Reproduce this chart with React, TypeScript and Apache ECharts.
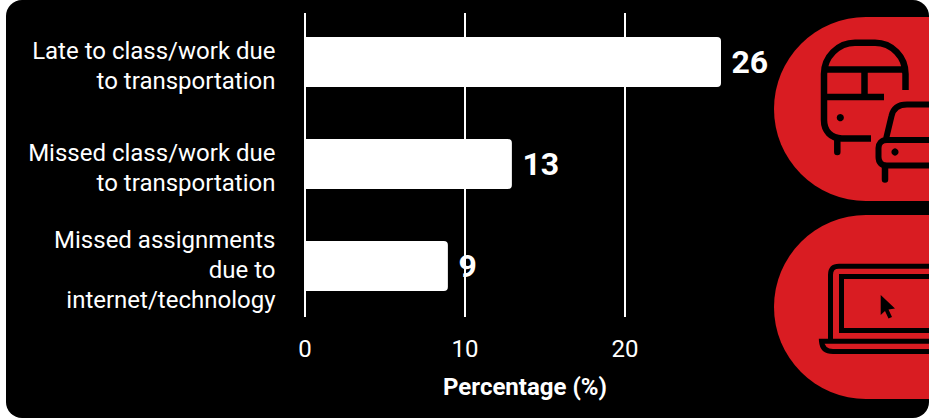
import React, { useEffect, useRef } from "react";
import * as echarts from "echarts";

const categories = [
  "Late to class/work due\nto transportation",
  "Missed class/work due\nto transportation",
  "Missed assignments\ndue to\ninternet/technology",
];
const values = [26, 12.93, 8.93];
const axisName = "Percentage (%)";

const FONT = "Roboto";
const RED = "#d91c22";

const trainPath =
  "M905.5 90 L905.5 74 C905.5 57 892 42.7 875 42.7 L855 42.7 C838 42.7 824 57 824 74 L824 120 C824 131 831 138.5 842 138.5 L871 138.5 " +
  "M824 69.5 L905.5 69.5 M864.5 69.5 L864.5 97 M824 97 L884 97";
const carPath =
  "M929 104.5 L907 104.5 C898 104.5 893 109 891.5 116 L886 139 " +
  "M929 140 L887 140 C881 140 878.5 144 878.5 148 L878.5 157 C878.5 162 881 165.5 887 165.5 L929 165.5";
const legsPath = "M837.3 139 L837.3 152 M885 166 L885 179.5";
const laptopPath =
  "M929 266.3 L839 266.3 C833 266.3 830.5 269 830.5 275 L830.5 341 " +
  "M929 276.5 L841.5 276.5 L841.5 330.5 L929 330.5 " +
  "M929 341.3 L821.5 341.3 C822 348 826 351.5 833 351.5 L929 351.5";

echarts.graphic.registerShape("trainIcon", echarts.graphic.extendPath(trainPath, {}));
echarts.graphic.registerShape("carIcon", echarts.graphic.extendPath(carPath, {}));
echarts.graphic.registerShape("legsIcon", echarts.graphic.extendPath(legsPath, {}));
echarts.graphic.registerShape("laptopIcon", echarts.graphic.extendPath(laptopPath, {}));

export default function App() {
  const ref = useRef<HTMLDivElement>(null);
  useEffect(() => {
    const chart = echarts.init(ref.current!, null, { renderer: "svg" });
    chart.setOption({
      animation: false,
      backgroundColor: "#fff",
      grid: { left: 305, right: 184, top: 11, bottom: 101, containLabel: false },
      xAxis: {
        type: "value",
        min: 0,
        max: 27.5,
        interval: 10,
        name: axisName,
        nameLocation: "middle",
        nameGap: 58,
        nameTextStyle: { color: "#fff", fontFamily: FONT, fontWeight: "bold", fontSize: 24 },
        axisLine: { show: false },
        axisTick: { show: false },
        axisLabel: {
          color: "#fff",
          fontFamily: FONT,
          fontSize: 24,
          margin: 20,
          showMaxLabel: false,
          formatter: (v: number) => (v === 27.5 ? "" : String(v)),
        },
        splitLine: { show: true, showMaxLine: false, lineStyle: { color: "#fff", width: 2 } },
      },
      yAxis: {
        type: "category",
        inverse: true,
        data: categories,
        axisLine: { show: false },
        axisTick: { show: false },
        axisLabel: {
          color: "#fff",
          fontFamily: FONT,
          fontSize: 24,
          lineHeight: 30,
          align: "right",
          margin: 29.5,
          formatter: (v: string) =>
            "{s| }\n" + v.split("\n").map((line) => `{l|${line}}`).join("\n"),
          rich: {
            s: { fontSize: 4, lineHeight: 7 },
            l: { color: "#fff", fontFamily: FONT, fontSize: 24, lineHeight: 30 },
          },
        },
      },
      series: [
        {
          type: "bar",
          data: values,
          barWidth: 50,
          itemStyle: { color: "#fff", borderRadius: [0, 4, 4, 0] },
          label: {
            show: true,
            position: "right",
            distance: 10.5,
            color: "#fff",
            fontFamily: FONT,
            fontWeight: "bold",
            fontSize: 32,
            formatter: (p: any) => String(Math.round(p.value)),
          },
          z: 3,
        },
      ],
      graphic: [
        { type: "rect", z: -10, silent: true, shape: { x: 6, y: 0, width: 923, height: 418, r: 16 }, style: { fill: "#000" } },
        { type: "rect", z: 1, silent: true, shape: { x: 300, y: 9, width: 340, height: 4 }, style: { fill: "#000" } },
        { type: "rect", z: 1, silent: true, shape: { x: 774, y: 17, width: 400, height: 184, r: 92 }, style: { fill: RED } },
        { type: "rect", z: 1, silent: true, shape: { x: 774, y: 215, width: 400, height: 184, r: 92 }, style: { fill: RED } },
        { type: "trainIcon", z: 2, silent: true, style: { stroke: "#000", lineWidth: 6.5, fill: "none" } },
        { type: "carIcon", z: 2, silent: true, style: { stroke: "#000", lineWidth: 6, fill: "none" } },
        { type: "legsIcon", z: 2, silent: true, style: { stroke: "#000", lineWidth: 6.5, fill: "none", lineCap: "round" } },
        { type: "circle", z: 2, silent: true, shape: { cx: 840.3, cy: 117.7, r: 3.6 }, style: { fill: "#000" } },
        { type: "circle", z: 2, silent: true, shape: { cx: 895, cy: 152, r: 3.6 }, style: { fill: "#000" } },
        { type: "laptopIcon", z: 2, silent: true, style: { stroke: "#000", lineWidth: 5, fill: "none" } },
        {
          type: "polygon",
          z: 2,
          silent: true,
          shape: {
            points: [[880.7, 295], [895, 308.5], [888.5, 309.5], [892, 317], [888.5, 318.5], [885, 311], [880.7, 315]],
          },
          style: { fill: "#000" },
        },
      ],
    });
    return () => chart.dispose();
  }, []);
  return <div ref={ref} style={{ position: "fixed", left: 0, top: 0, width: 929, height: 418 }} />;
}
